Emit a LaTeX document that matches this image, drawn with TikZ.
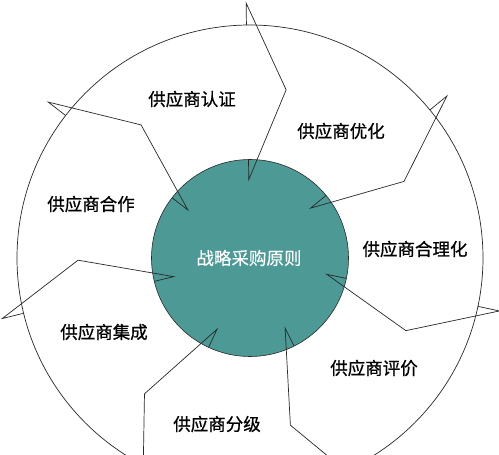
\documentclass[tikz,border=0pt]{standalone}
\usepackage{fontspec}
\newfontfamily\cjk[FakeBold=0.8]{Noto Sans CJK SC}
\newfontfamily\cjkw[FakeBold=0.3]{Noto Sans CJK SC}
\definecolor{coreteal}{RGB}{76,153,149}
\definecolor{edge}{RGB}{40,40,40}
\begin{document}
\begin{tikzpicture}[x=1pt,y=1pt,
  ring/.style={draw=edge,line width=0.7pt},
  lbl/.style={font=\cjk\fontsize{17.5}{20}\selectfont,text=black,inner sep=0pt},
  corelbl/.style={font=\cjkw\fontsize{17.5}{20}\selectfont,text=white,inner sep=0pt}]
\useasboundingbox (-250,-197) rectangle (249,258);
\clip (-250,-197) rectangle (249,258);
\fill[white] (-250,-197) rectangle (249,258);
\coordinate (C) at (0,0);
\draw[ring] (C) circle[radius=233pt];
\fill[coreteal] (C) circle[radius=98.5pt];
\draw[draw=edge,line width=0.6pt] (C) circle[radius=98.5pt];
\foreach \k in {0,...,6}{
  \pgfmathsetmacro\t{129.3-\k*360/7}
  \pgfmathsetmacro\p{\t+13}
  \coordinate (o\k) at (\p:233);
  \coordinate (ob\k) at (\p:255);
  \coordinate (tip\k) at (\t:172);
  \coordinate (ib\k) at (\p:78.5);
  \coordinate (i\k) at (\p:98.5);
  \draw[ring,line join=miter] (o\k) -- (ob\k) -- (tip\k) -- (ib\k) -- (i\k);
}
\node[corelbl] (core) at (-1,0) {战略采购原则};
\node[lbl] (renzheng) at (-58,159) {供应商认证};
\node[lbl] (youhua) at (91,127) {供应商优化};
\node[lbl] (helihua) at (165,9) {供应商合理化};
\node[lbl] (pingjia) at (124,-110) {供应商评价};
\node[lbl] (fenji) at (-33,-166) {供应商分级};
\node[lbl] (jicheng) at (-146,-74) {供应商集成};
\node[lbl] (hezuo) at (-159,54) {供应商合作};
\end{tikzpicture}
\end{document}
